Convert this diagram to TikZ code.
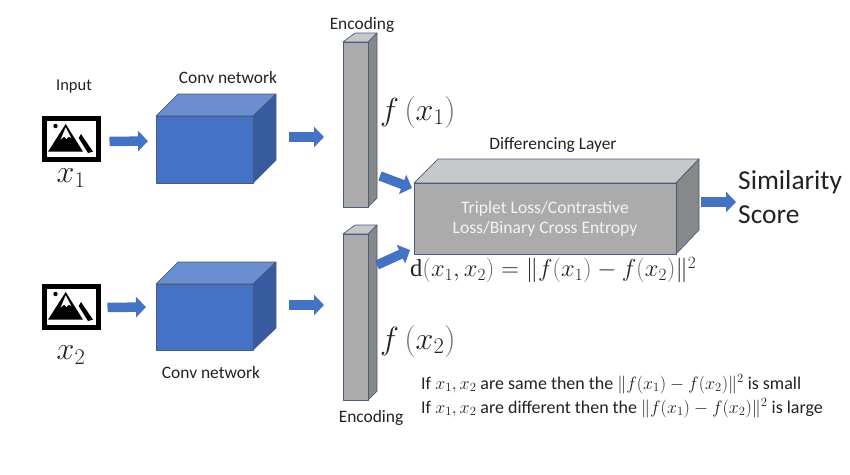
\RequirePackage{fix-cm}
\documentclass[tikz,border=0pt]{standalone}
\usepackage{fontspec}
\setmainfont{Carlito}
\newfontfamily\dfont{Liberation Serif}
\usetikzlibrary{arrows.meta}
\definecolor{blueF}{HTML}{4472C4}
\definecolor{blueT}{HTML}{6A8ECF}
\definecolor{blueS}{HTML}{365C9F}
\definecolor{greyF}{HTML}{ABABAB}
\definecolor{greyT}{HTML}{C6C8CA}
\definecolor{greyS}{HTML}{878889}
\definecolor{edgeC}{HTML}{4A5C7C}
\definecolor{parenC}{HTML}{7A6A66}
\definecolor{txtC}{HTML}{222222}
\newcommand{\pp}[1]{\textcolor{parenC}{#1}}
\newcommand{\updee}{\mbox{\dfont d}}
\tikzset{
  face/.style={draw=edgeC,line width=0.7pt,line join=round},
  front/.style={face,inner sep=0pt,outer sep=0pt,anchor=north west},
  blockarrow/.style={draw=blueF,line width=9.5pt,-{Triangle[width=20pt,length=10pt]}},
  lab/.style={text=txtC,font=\fontsize{17.4}{19}\selectfont,inner sep=0pt},
  mathlab/.style={text=txtC,inner sep=0pt},
  notelab/.style={lab,anchor=west,font=\fontsize{17.95}{20}\selectfont},
  frame/.style={draw=black,line width=4.5pt,fill=white,inner sep=0pt,outer sep=0pt,anchor=north west,minimum width=54pt,minimum height=41pt}
}
\begin{document}
\begin{tikzpicture}[x=1pt,y=-1pt]
\useasboundingbox (0,0) rectangle (850,474);
\fill[white] (0,0) rectangle (850,474);

% --- cubes: top, side, front
\draw[face,fill=blueT] (156,116) -- (178,94) -- (276,94) -- (253,116) -- cycle;
\draw[face,fill=blueS] (253,116) -- (276,94) -- (276,160) -- (253,183) -- cycle;
\node[front,fill=blueF,minimum width=97pt,minimum height=67pt] (cubeA) at (156,116) {};

\draw[face,fill=blueT] (156,284) -- (178,262) -- (276,262) -- (253,284) -- cycle;
\draw[face,fill=blueS] (253,284) -- (276,262) -- (276,328) -- (253,350) -- cycle;
\node[front,fill=blueF,minimum width=97pt,minimum height=66pt] (cubeB) at (156,284) {};

% --- encodings
\draw[face,fill=greyT] (343,42) -- (355,33) -- (377,33) -- (368,42) -- cycle;
\draw[face,fill=greyS] (368,42) -- (377,33) -- (377,198) -- (368,207) -- cycle;
\node[front,fill=greyF,minimum width=25pt,minimum height=165pt] (encA) at (343,42) {};

\draw[face,fill=greyT] (343,234) -- (355,225) -- (377,225) -- (368,234) -- cycle;
\draw[face,fill=greyS] (368,234) -- (377,225) -- (377,391) -- (368,400) -- cycle;
\node[front,fill=greyF,minimum width=25pt,minimum height=166pt] (encB) at (343,234) {};

% --- differencing block
\draw[face,fill=greyT] (414,183) -- (438,159) -- (699,159) -- (676,183) -- cycle;
\draw[face,fill=greyS] (676,183) -- (699,159) -- (699,230) -- (676,254) -- cycle;
\node[front,fill=greyF,minimum width=262pt,minimum height=71pt,text=white!85!greyF,align=center,
  font=\fontsize{17.6}{20}\selectfont] (diff) at (414,183) {Triplet Loss/Contrastive\\Loss/Binary Cross Entropy};

% --- image icons
\node[frame] (imgA) at (44.5,118.5) {};
\node[frame] (imgB) at (44.5,286.5) {};
\foreach \oy in {0,168}{
  \begin{scope}[yshift=-\oy pt]
    \fill[black] (48,151.7) -- (65.7,124) -- (83,151.7) -- cycle;
    \fill[white] (65.7,127.3) -- (71.3,138) -- (68.7,136.7) -- (66.3,139) -- (64,136.7) -- (60.7,139.3) -- cycle;
    \fill[black] (78.7,138) -- (81,134) -- (93,151.7) -- (88,153) -- cycle;
    \fill[black] (55.5,126) circle (2.2pt);
  \end{scope}
}

% --- connectors
\draw[blockarrow] ([shift={(11pt,-2.5pt)}]imgA.east) -- ([shift={(-8pt,8.5pt)}]cubeA.west);
\draw[blockarrow] ([shift={(9pt,-0.5pt)}]imgB.east) -- ([shift={(-10pt,10pt)}]cubeB.west);
\draw[blockarrow] ([shift={(36pt,12.5pt)}]cubeA.east) -- ([shift={(-19pt,-12.5pt)}]encA.west);
\draw[blockarrow] ([shift={(36pt,12pt)}]cubeB.east) -- ([shift={(-19pt,12pt)}]encB.west);
\draw[blockarrow] ([shift={(12pt,-51.5pt)}]encA.east) -- ([shift={(-2pt,30.5pt)}]diff.west);
\draw[blockarrow] ([shift={(9pt,52pt)}]encB.east) -- ([shift={(-4pt,-31.5pt)}]diff.west);
\coordinate (scoreTip) at (736,202);
\draw[blockarrow] ([shift={(25pt,16.5pt)}]diff.east) -- (scoreTip);

% --- labels
\node[lab,font=\fontsize{16.5}{18}\selectfont] (tInput) at (74,87) {Input};
\node[lab] (tConvA) at (228,78) {Conv network};
\node[lab] (tConvB) at (211,373) {Conv network};
\node[lab] (tEncA) at (362,25) {Encoding};
\node[lab] (tEncB) at (371,418) {Encoding};
\node[lab] (tDiff) at (553,145) {Differencing Layer};
\node[lab,font=\fontsize{27.4}{34}\selectfont,align=left,anchor=west] (tScore) at (738,197) {Similarity\\Score};

\node[mathlab,font=\fontsize{32}{36}\selectfont] (xA) at (71,178) {$x_1$};
\node[mathlab,font=\fontsize{32}{36}\selectfont] (xB) at (71,355) {$x_2$};
\node[mathlab,font=\fontsize{32}{36}\selectfont,anchor=west] (fA) at (380,112) {$f\,\pp{(}x_1\pp{)}$};
\node[mathlab,font=\fontsize{32}{36}\selectfont,anchor=west] (fB) at (380,341) {$f\,\pp{(}x_2\pp{)}$};
\node[mathlab,font=\fontsize{24.5}{26}\selectfont,anchor=west] (dEq) at (410,270)
  {$\updee\pp{(}x_1,x_2\pp{)}=\|f\pp{(}x_1\pp{)}-f\pp{(}x_2\pp{)}\|^2$};
\node[notelab] (noteA) at (421,384)
  {If $x_1,x_2$ are same then the $\|f(x_1)-f(x_2)\|^2$ is small};
\node[notelab] (noteB) at (421,408)
  {If $x_1,x_2$ are different then the $\|f(x_1)-f(x_2)\|^2$ is large};
\end{tikzpicture}
\end{document}
